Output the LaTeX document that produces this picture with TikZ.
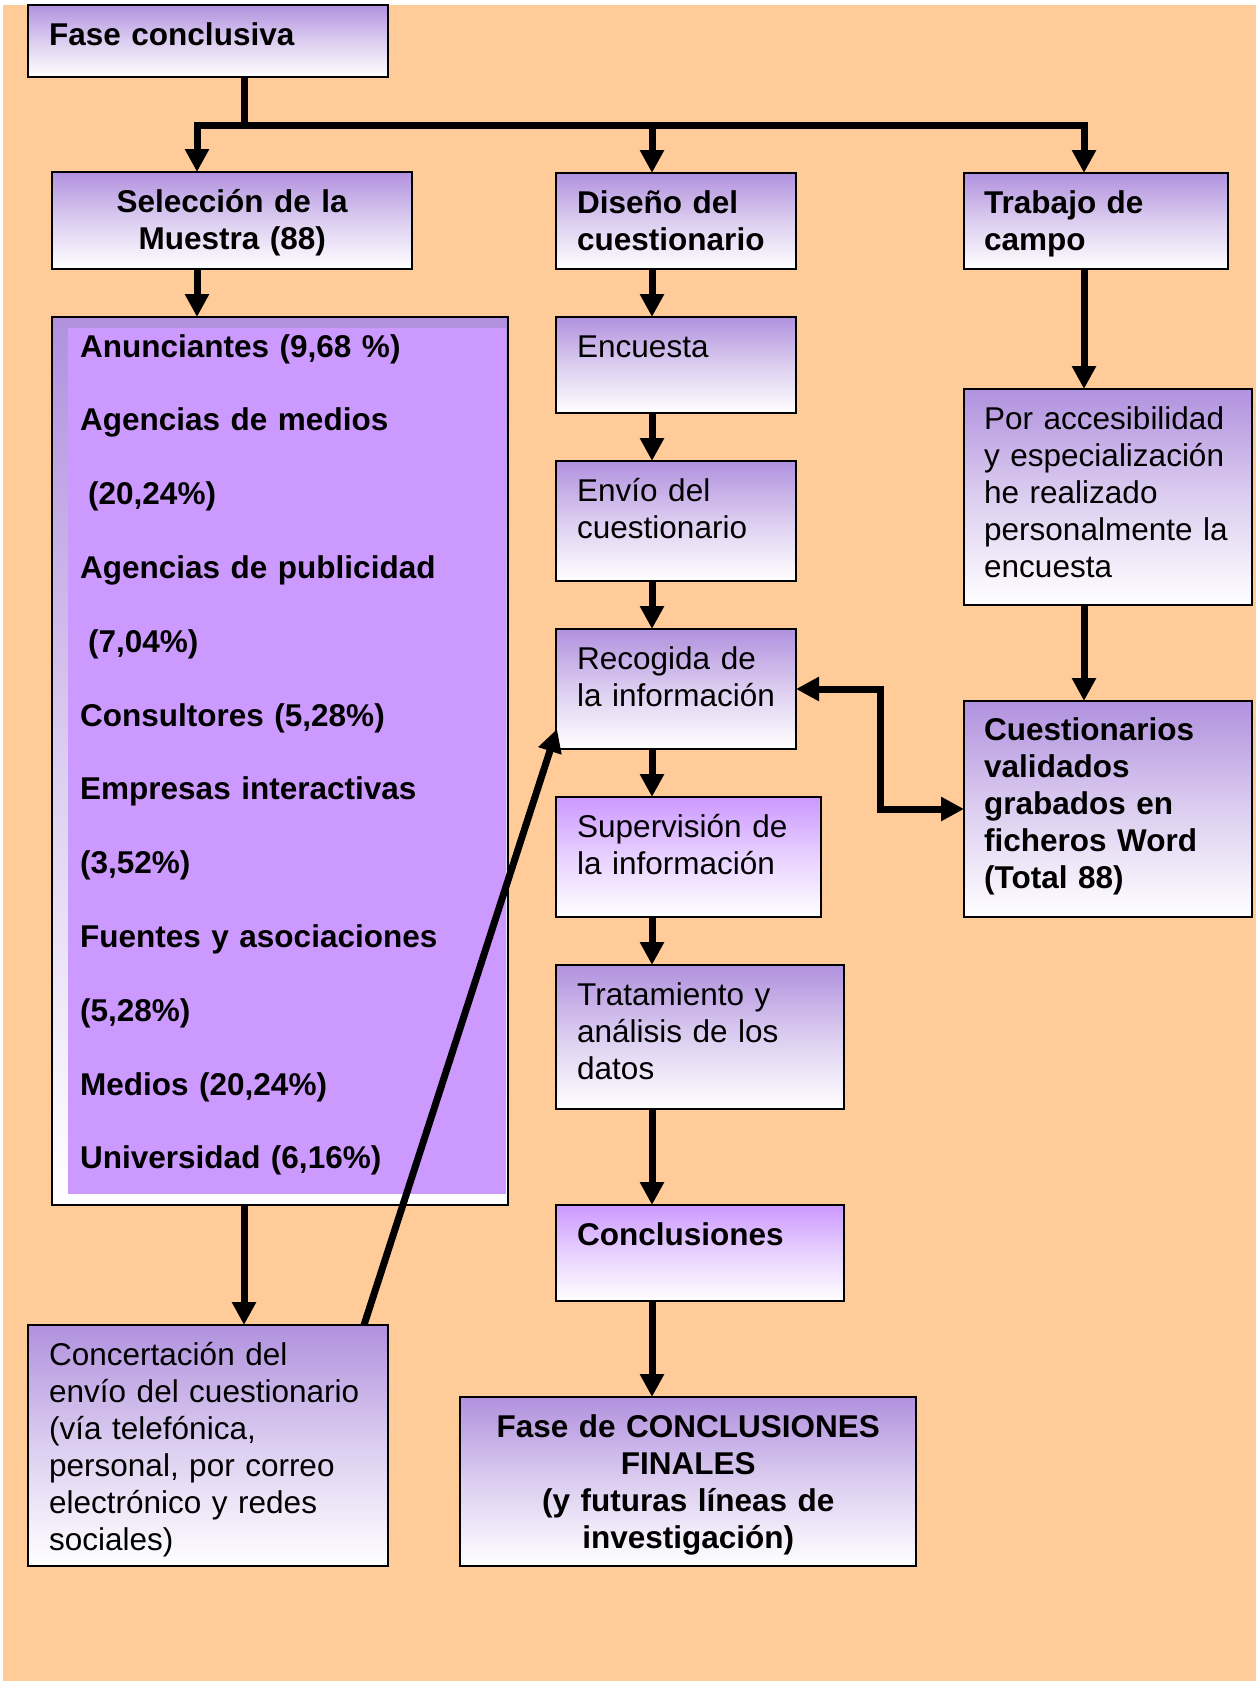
\documentclass[tikz,border=0pt]{standalone}
\usepackage{fontspec}
\setmainfont{Liberation Sans}
\usetikzlibrary{arrows.meta,calc}
\definecolor{peach}{RGB}{255,204,153}
\definecolor{pdark}{RGB}{177,145,222}
\definecolor{plight}{RGB}{204,153,255}
\begin{document}
\begin{tikzpicture}[x=1pt,y=-1pt,
  box/.style={draw=black, line width=1.8pt, anchor=north west, inner sep=0pt, outer sep=0pt,
              top color=pdark, bottom color=white, middle color=pdark!45!white},
  boxb/.style={box, top color=plight, middle color=plight!45!white},
  txt/.style={anchor=base west, inner sep=0pt, align=left, font=\fontsize{31.5}{37}\selectfont},
  btxt/.style={txt, font=\fontsize{31.5}{37}\selectfont\bfseries},
  ctxt/.style={btxt, align=center},
  conn/.style={line width=7pt, -{Triangle[width=23pt,length=23pt]}},
  dconn/.style={line width=7pt, {Triangle[width=23pt,length=23pt]}-{Triangle[width=23pt,length=23pt]}},
]
\useasboundingbox (0,0) rectangle (1258,1681);
\fill[white] (0,0) rectangle (1258,1681);
\fill[peach] (3,5) rectangle (1256,1681);

% boxes
\node[box, minimum width=360pt, minimum height=72pt] (fase) at (28,5) {};
\node[box, minimum width=360pt, minimum height=97pt] (sel) at (52,172) {};
\node[box, minimum width=240pt, minimum height=96pt] (dis) at (556,173) {};
\node[box, minimum width=264pt, minimum height=96pt] (trab) at (964,173) {};
\node[box, minimum width=456pt, minimum height=888pt] (list) at (52,317) {};
\fill[plight] ($(list.north west)+(16,11)$) rectangle ($(list.south east)+(-2,-11)$);
\node[box, minimum width=240pt, minimum height=96pt] (enc) at (556,317) {};
\node[box, minimum width=288pt, minimum height=216pt] (por) at (964,389) {};
\node[box, minimum width=240pt, minimum height=120pt] (env) at (556,461) {};
\node[box, minimum width=240pt, minimum height=120pt] (rec) at (556,629) {};
\node[box, minimum width=288pt, minimum height=216pt] (cue) at (964,701) {};
\node[boxb, minimum width=265pt, minimum height=120pt] (sup) at (556,797) {};
\node[box, minimum width=288pt, minimum height=144pt] (tra) at (556,965) {};
\node[boxb, minimum width=288pt, minimum height=96pt] (con) at (556,1205) {};
\node[box, minimum width=360pt, minimum height=241pt] (conc) at (28,1325) {};
\node[box, minimum width=456pt, minimum height=169pt] (fin) at (460,1397) {};

% texts
\node[btxt, text width=330pt] (faseT) at ($(fase.north west)+(21,40)$) {Fase conclusiva};
\node[ctxt, text width=340pt] (selT) at ($(sel.north west)+(10,40)$) {Selección de la\\Muestra (88)};
\node[btxt, text width=220pt] (disT) at ($(dis.north west)+(21,40)$) {Diseño del\\cuestionario};
\node[btxt, text width=240pt] (trabT) at ($(trab.north west)+(20,40)$) {Trabajo de\\campo};
\node[txt, text width=420pt, font=\fontsize{31.5}{73.8}\selectfont\bfseries] (listT) at ($(list.north west)+(28,40)$)
  {Anunciantes (9,68 \%)\\Agencias de medios\\\hspace*{8pt}(20,24\%)\\Agencias de publicidad\\\hspace*{8pt}(7,04\%)\\Consultores (5,28\%)\\Empresas interactivas\\(3,52\%)\\Fuentes y asociaciones\\(5,28\%)\\Medios (20,24\%)\\Universidad (6,16\%)};
\node[txt, text width=220pt] (encT) at ($(enc.north west)+(21,40)$) {Encuesta};
\node[txt, text width=268pt] (porT) at ($(por.north west)+(20,40)$) {Por accesibilidad\\y especialización\\he realizado\\personalmente la\\encuesta};
\node[txt, text width=220pt] (envT) at ($(env.north west)+(21,40)$) {Envío del\\cuestionario};
\node[txt, text width=220pt] (recT) at ($(rec.north west)+(21,40)$) {Recogida de\\la información};
\node[btxt, text width=268pt] (cueT) at ($(cue.north west)+(20,39)$) {Cuestionarios\\validados\\grabados en\\ficheros Word\\(Total 88)};
\node[txt, text width=240pt] (supT) at ($(sup.north west)+(21,40)$) {Supervisión de\\la información};
\node[txt, text width=260pt] (traT) at ($(tra.north west)+(21,40)$) {Tratamiento y\\análisis de los\\datos};
\node[btxt, text width=260pt] (conT) at ($(con.north west)+(21,40)$) {Conclusiones};
\node[txt, text width=335pt] (concT) at ($(conc.north west)+(21,40)$) {Concertación del\\envío del cuestionario\\(vía telefónica,\\personal, por correo\\electrónico y redes\\sociales)};
\node[ctxt, text width=436pt] (finT) at ($(fin.north west)+(10,40)$) {Fase de CONCLUSIONES\\FINALES\\(y futuras líneas de\\investigación)};

% connector coordinates
\coordinate (tr) at (244,125);
\coordinate (jl) at (197,125);
\coordinate (jm) at (652,125);
\coordinate (jr) at (1084,125);
\coordinate (cl) at (244,0);

% connectors
\draw[line width=7pt] (fase.south -| tr) -- (tr);
\draw[conn] (jr) -- (jl) -- (jl |- sel.north);
\draw[conn] (jl) -- (jr) -- (jr |- trab.north);
\draw[conn] (jm) -- (jm |- dis.north);
\draw[conn] (jl |- sel.south) -- (jl |- list.north);
\draw[conn] (jm |- dis.south) -- (jm |- enc.north);
\draw[conn] (jm |- enc.south) -- (jm |- env.north);
\draw[conn] (jm |- env.south) -- (jm |- rec.north);
\draw[conn] (jm |- rec.south) -- (jm |- sup.north);
\draw[conn] (jm |- sup.south) -- (jm |- tra.north);
\draw[conn] (jm |- tra.south) -- (jm |- con.north);
\draw[conn] (jm |- con.south) -- (jm |- fin.north);
\draw[conn] (jr |- trab.south) -- (jr |- por.north);
\draw[conn] (jr |- por.south) -- (jr |- cue.north);
\draw[conn] (cl |- list.south) -- (cl |- conc.north);
\draw[conn] ($(conc.north west)+(336,0)$) -- ($(rec.south west)+(1,-20)$);
\draw[dconn] ($(rec.north east)+(0,60)$) -- ++(84,0) |- ($(cue.north west)+(0,108)$);
\end{tikzpicture}
\end{document}
